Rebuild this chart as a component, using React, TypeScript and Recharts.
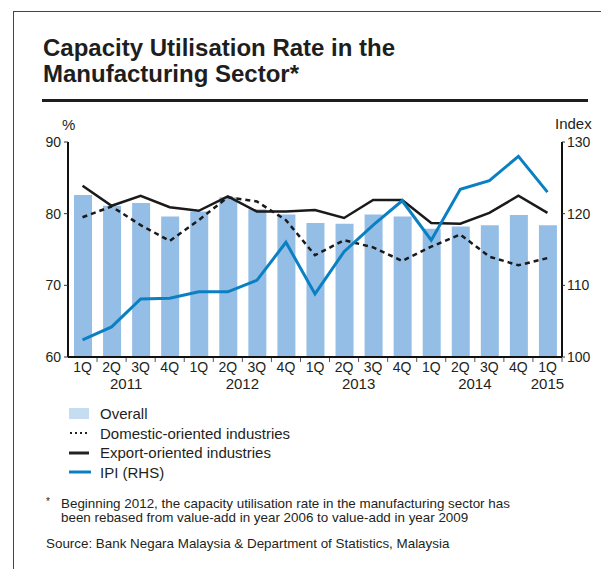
import React from 'react';
import {
  ComposedChart,
  Bar,
  Line,
  XAxis,
  YAxis,
} from 'recharts';

const quarters = ['1Q', '2Q', '3Q', '4Q', '1Q', '2Q', '3Q', '4Q', '1Q', '2Q', '3Q', '4Q', '1Q', '2Q', '3Q', '4Q', '1Q'];
const years = ['2011', '2011', '2011', '2011', '2012', '2012', '2012', '2012', '2013', '2013', '2013', '2013', '2014', '2014', '2014', '2014', '2015'];

const overall = [82.6, 81.1, 81.5, 79.6, 80.3, 82.3, 80.6, 79.9, 78.7, 78.6, 79.9, 79.6, 77.9, 78.2, 78.4, 79.8, 78.4];
const domestic = [79.5, 81.0, 78.4, 76.2, 79.1, 82.3, 81.7, 79.1, 74.2, 76.3, 75.3, 73.4, 75.4, 77.1, 74.0, 72.8, 73.8];
const exportOriented = [83.9, 81.1, 82.5, 80.9, 80.4, 82.4, 80.3, 80.3, 80.5, 79.4, 81.9, 81.9, 78.7, 78.6, 80.1, 82.5, 80.1];
const ipi = [102.4, 104.2, 108.1, 108.2, 109.1, 109.1, 110.7, 116.0, 108.8, 114.7, 118.4, 121.8, 116.3, 123.4, 124.6, 128.0, 123.0];

const leftTicks = [60, 70, 80, 90];
const rightTicks = [100, 110, 120, 130];

const data = quarters.map((q, i) => ({
  key: `${q}-${years[i]}-${i}`,
  quarter: q,
  year: years[i],
  overall: overall[i],
  domestic: domestic[i],
  exportOriented: exportOriented[i],
  ipi: ipi[i],
}));

const FONT = '"Liberation Sans", Arial, sans-serif';
const TEXT = '#231f20';
const BAR = '#94bee6';
const BLUE = '#0a80c3';

const PLOT_LEFT = 68;
const PLOT_RIGHT = 562;
const PLOT_TOP = 142;
const band = (PLOT_RIGHT - PLOT_LEFT) / quarters.length;

function QuarterTick({ x, y, index }: { x: number; y: number; index: number }) {
  const d = data[index];
  const first = index === 0 || data[index - 1].year !== d.year;
  const count = years.filter((yr) => yr === d.year).length;
  const last = index === data.length - 1;
  return (
    <g>
      {index > 0 && (
        <line x1={x - band / 2} x2={x - band / 2} y1={y + 1} y2={y + 5} stroke="#555" strokeWidth={1} />
      )}
      {last && (
        <line x1={x + band / 2} x2={x + band / 2} y1={y + 1} y2={y + 5} stroke="#555" strokeWidth={1} />
      )}
      <text x={x} y={y + 15} textAnchor="middle" fontSize={14} fill={TEXT} fontFamily={FONT}>
        {d.quarter}
      </text>
      {first && (
        <text
          x={x + (band * (count - 1)) / 2}
          y={y + 32}
          textAnchor="middle"
          fontSize={15}
          fill={TEXT}
          fontFamily={FONT}
        >
          {d.year}
        </text>
      )}
    </g>
  );
}

const legendItems = [
  { name: 'Overall', kind: 'bar' },
  { name: 'Domestic-oriented industries', kind: 'dotted' },
  { name: 'Export-oriented industries', kind: 'solid' },
  { name: 'IPI (RHS)', kind: 'blue' },
];

function LegendSwatch({ kind }: { kind: string }) {
  if (kind === 'bar') return <rect x={0} y={2} width={20} height={11} fill="#c5dcf1" />;
  if (kind === 'dotted')
    return <line x1={1} x2={20} y1={8} y2={8} stroke="#222" strokeWidth={2} strokeDasharray="2 3" />;
  if (kind === 'solid') return <line x1={0} x2={20} y1={8} y2={8} stroke="#222" strokeWidth={3} />;
  return <line x1={0} x2={21} y1={8} y2={8} stroke={BLUE} strokeWidth={3} strokeLinecap="round" />;
}

export default function App() {
  return (
    <div
      style={{
        position: 'absolute',
        left: 0,
        top: 0,
        width: 601,
        height: 569,
        background: '#fff',
        fontFamily: FONT,
        color: TEXT,
        overflow: 'hidden',
      }}
    >
      <div
        style={{
          position: 'absolute',
          left: 13,
          top: 11,
          width: 601 - 13,
          height: 569 - 11,
          borderLeft: '1px solid #444',
          borderTop: '1px solid #444',
        }}
      />
      <div
        style={{
          position: 'absolute',
          left: 43,
          top: 35,
          fontSize: 24,
          fontWeight: 'bold',
          lineHeight: '26px',
          color: '#1e1e1e',
        }}
      >
        Capacity Utilisation Rate in the
        <br />
        Manufacturing Sector*
      </div>
      <div style={{ position: 'absolute', left: 42, top: 99, width: 546, height: 3, background: '#1e1e1e' }} />

      <div style={{ position: 'absolute', left: 62, top: 116, fontSize: 15 }}>%</div>
      <div style={{ position: 'absolute', left: 555, top: 115, fontSize: 15 }}>Index</div>

      <div style={{ position: 'absolute', left: 0, top: 0 }}>
        <ComposedChart
          width={601}
          height={400}
          data={data}
          margin={{ top: PLOT_TOP, right: 601 - PLOT_RIGHT - 38, bottom: 3, left: PLOT_LEFT - 30 }}
          barCategoryGap={0}
        >
          <XAxis
            dataKey="key"
            xAxisId={0}
            height={40}
            interval={0}
            tickLine={false}
            tickSize={0}
            tickMargin={0}
            axisLine={{ stroke: '#111', strokeWidth: 2 }}
            tick={(props: any) => <QuarterTick {...props} />}
          />
          <YAxis
            yAxisId="left"
            width={30}
            domain={[60, 90]}
            ticks={leftTicks}
            interval={0}
            axisLine={{ stroke: '#111', strokeWidth: 2 }}
            tickLine={{ stroke: '#333', strokeWidth: 1 }}
            tickSize={4}
            tickMargin={3}
            tick={{ fontSize: 14, fill: TEXT, fontFamily: FONT }}
            allowDataOverflow
          />
          <YAxis
            yAxisId="right"
            orientation="right"
            width={38}
            domain={[100, 130]}
            ticks={rightTicks}
            interval={0}
            axisLine={{ stroke: '#111', strokeWidth: 2 }}
            tickLine={{ stroke: '#333', strokeWidth: 1 }}
            tickSize={3}
            tickMargin={2}
            tick={{ fontSize: 14, fill: TEXT, fontFamily: FONT }}
            allowDataOverflow
          />
          <Bar yAxisId="left" dataKey="overall" fill={BAR} barSize={18} isAnimationActive={false} />
          <Line
            yAxisId="left"
            type="linear"
            dataKey="domestic"
            stroke="#1a1a1a"
            strokeWidth={2.5}
            strokeDasharray="5 4"
            dot={false}
            activeDot={false}
            isAnimationActive={false}
          />
          <Line
            yAxisId="left"
            type="linear"
            dataKey="exportOriented"
            stroke="#1a1a1a"
            strokeWidth={2.5}
            dot={false}
            activeDot={false}
            isAnimationActive={false}
          />
          <Line
            yAxisId="right"
            type="linear"
            dataKey="ipi"
            stroke={BLUE}
            strokeWidth={3}
            dot={false}
            activeDot={false}
            isAnimationActive={false}
          />
        </ComposedChart>
      </div>

      <div style={{ position: 'absolute', left: 69, top: 404 }}>
        {legendItems.map((item) => (
          <div key={item.name} style={{ display: 'flex', alignItems: 'center', height: 19.5 }}>
            <svg width={22} height={16} style={{ marginRight: 9 }}>
              <LegendSwatch kind={item.kind} />
            </svg>
            <span style={{ fontSize: 15, lineHeight: '19px' }}>{item.name}</span>
          </div>
        ))}
      </div>

      <div style={{ position: 'absolute', left: 46, top: 496, fontSize: 10 }}>*</div>
      <div style={{ position: 'absolute', left: 61, top: 497, fontSize: 13.4, lineHeight: '14px' }}>
        Beginning 2012, the capacity utilisation rate in the manufacturing sector has
        <br />
        been rebased from value-add in year 2006 to value-add in year 2009
      </div>
      <div style={{ position: 'absolute', left: 46, top: 536, fontSize: 13.4 }}>
        Source: Bank Negara Malaysia &amp; Department of Statistics, Malaysia
      </div>
    </div>
  );
}
